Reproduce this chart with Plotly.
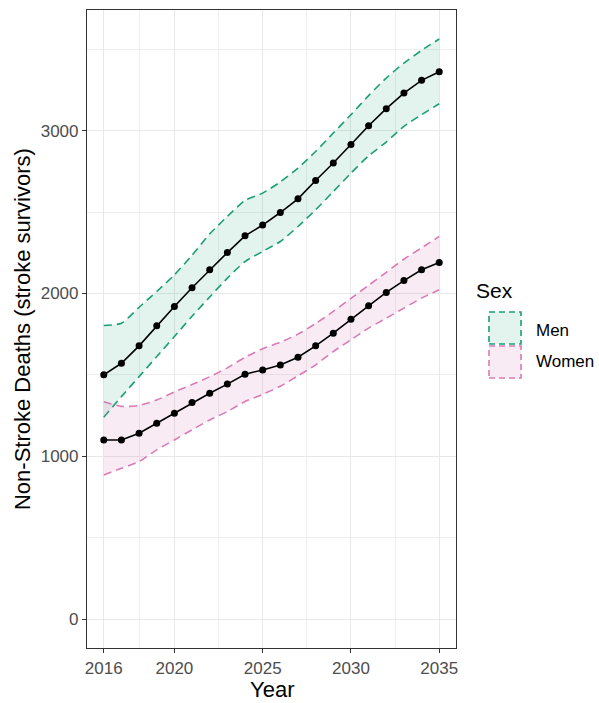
import plotly.graph_objects as go

# Projected non-stroke deaths among stroke survivors, by sex
years = [2016, 2017, 2018, 2019, 2020, 2021, 2022, 2023, 2024, 2025,
         2026, 2027, 2028, 2029, 2030, 2031, 2032, 2033, 2034, 2035]

men_mean = [1500, 1571, 1678, 1801, 1920, 2035, 2145, 2251, 2354, 2420,
            2497, 2581, 2694, 2801, 2915, 3030, 3135, 3231, 3309, 3362]
men_upper = [1803, 1817, 1915, 2012, 2114, 2235, 2366, 2473, 2571, 2616,
             2685, 2770, 2872, 2985, 3098, 3215, 3323, 3415, 3493, 3563]
men_lower = [1240, 1366, 1489, 1612, 1735, 1860, 1978, 2094, 2196, 2258,
             2319, 2411, 2514, 2626, 2739, 2845, 2930, 3026, 3098, 3165]

women_mean = [1100, 1100, 1141, 1203, 1264, 1330, 1387, 1443, 1504, 1530,
              1561, 1608, 1678, 1756, 1842, 1924, 2006, 2079, 2145, 2190]
women_upper = [1335, 1306, 1312, 1345, 1395, 1440, 1488, 1543, 1608, 1660,
               1700, 1750, 1815, 1890, 1970, 2050, 2130, 2210, 2280, 2350]
women_lower = [885, 926, 967, 1039, 1100, 1162, 1223, 1274, 1336, 1380,
               1430, 1494, 1561, 1643, 1715, 1787, 1848, 1910, 1971, 2022]

sexes = ["Men", "Women"]
line_colors = {"Men": "#1B9E77", "Women": "#D97BB4"}
fill_colors = {"Men": "rgba(27,158,119,0.12)", "Women": "rgba(217,120,180,0.15)"}
bands = {"Men": (men_lower, men_upper, men_mean),
         "Women": (women_lower, women_upper, women_mean)}

x_ticks = [2016, 2020, 2025, 2030, 2035]
x_minor = [2018, 2022.5, 2027.5, 2032.5]

FONT = "Liberation Sans, Arial, sans-serif"
DASH = "8px,5px"

fig = go.Figure()

# uncertainty ribbons with dashed outlines
for s in sexes:
    lo, hi, _ = bands[s]
    fig.add_trace(go.Scatter(x=years, y=lo, mode="lines",
                             line=dict(color=line_colors[s], width=1.6, dash=DASH, shape="spline", smoothing=0.6),
                             showlegend=False, hoverinfo="skip"))
    fig.add_trace(go.Scatter(x=years, y=hi, mode="lines", fill="tonexty",
                             fillcolor=fill_colors[s],
                             line=dict(color=line_colors[s], width=1.6, dash=DASH, shape="spline", smoothing=0.6),
                             showlegend=False, hoverinfo="skip"))

# central estimates
for s in sexes:
    _, _, mean = bands[s]
    fig.add_trace(go.Scatter(x=years, y=mean, mode="lines+markers",
                             line=dict(color="black", width=1.6),
                             marker=dict(color="black", size=7),
                             showlegend=False, name=s))

axis_common = dict(
    showline=True, mirror=True, linecolor="#333333", linewidth=1.2,
    ticks="outside", ticklen=4, tickcolor="#333333", tickwidth=1,
    showgrid=True, gridcolor="#E8E8E8", gridwidth=1.4,
    tickfont=dict(family=FONT, size=17, color="#4D4D4D"),
    zeroline=False,
)

fig.update_xaxes(range=[2015.05, 2035.95], tickmode="array", tickvals=x_ticks,
                 minor=dict(tickmode="array", tickvals=x_minor, showgrid=True,
                            gridcolor="#EEEEEE", gridwidth=1.0, ticks=""),
                 **axis_common)
fig.update_yaxes(range=[-178, 3741], tickmode="array", tickvals=[0, 1000, 2000, 3000],
                 minor=dict(tickmode="array", tickvals=[500, 1500, 2500, 3500], showgrid=True,
                            gridcolor="#EEEEEE", gridwidth=1.0, ticks=""),
                 **axis_common)

# axis titles
fig.add_annotation(text="Year", xref="paper", yref="paper", x=0.5, y=-0.065,
                   xanchor="center", yanchor="middle", showarrow=False,
                   font=dict(family=FONT, size=22, color="black"))
fig.add_annotation(text="Non-Stroke Deaths (stroke survivors)", xref="paper", yref="paper",
                   x=-0.176, y=0.5, textangle=-90, xanchor="center", yanchor="middle",
                   showarrow=False, font=dict(family=FONT, size=22, color="black"))

# legend drawn as keys with dashed borders
fig.add_annotation(text="Sex", xref="paper", yref="paper", x=1.0488, y=0.561,
                   xanchor="left", yanchor="middle", showarrow=False,
                   font=dict(family=FONT, size=21, color="black"))
key_rows = {"Men": (0.4765, 0.5266, 0.4984), "Women": (0.4232, 0.4734, 0.4483)}
for s in sexes:
    y0, y1, ty = key_rows[s]
    fig.add_shape(type="rect", xref="paper", yref="paper", x0=1.0894, x1=1.1762,
                  y0=y0, y1=y1, fillcolor=fill_colors[s],
                  line=dict(color=line_colors[s], width=1.6, dash="6px,4px"))
    fig.add_annotation(text=s, xref="paper", yref="paper", x=1.2114, y=ty,
                       xanchor="left", yanchor="middle", showarrow=False,
                       font=dict(family=FONT, size=17, color="black"))

fig.update_layout(
    width=599, height=703,
    margin=dict(l=87, r=143, t=10, b=55, autoexpand=False),
    paper_bgcolor="white", plot_bgcolor="white",
    showlegend=False,
)

fig.write_html("out.html")
